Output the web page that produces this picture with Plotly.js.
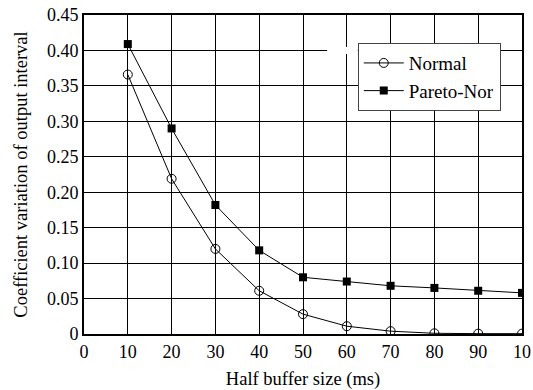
<!DOCTYPE html>
<html><head><meta charset="utf-8">
<script src="https://cdn.plot.ly/plotly-3.0.1.min.js"></script>
<style>html,body{margin:0;padding:0;background:#fff}</style>
</head><body><div id="chart"></div>
<script>
const bufferSize = [10, 20, 30, 40, 50, 60, 70, 80, 90, 100];
const normalCV = [0.366, 0.219, 0.120, 0.061, 0.028, 0.011, 0.004, 0.001, 0.0005, 0.0005];
const paretoCV = [0.409, 0.290, 0.182, 0.118, 0.080, 0.074, 0.068, 0.065, 0.061, 0.058];
const xTickVals = [0, 10, 20, 30, 40, 50, 60, 70, 80, 90, 100];
const xTickText = ['0', '10', '20', '30', '40', '50', '60', '70', '80', '90', '10'];
const yTickVals = [0, 0.05, 0.10, 0.15, 0.20, 0.25, 0.30, 0.35, 0.40, 0.45];
const yTickText = ['0', '0.05', '0.10', '0.15', '0.20', '0.25', '0.30', '0.35', '0.40', '0.45'];

const font = 'Liberation Serif';
const traces = [
  {x: bufferSize, y: normalCV, name: 'Normal', mode: 'lines+markers',
   line: {color: '#000', width: 1},
   marker: {symbol: 'circle-open', size: 9, color: '#000', line: {width: 1}}},
  {x: bufferSize, y: paretoCV, name: 'Pareto-Nor', mode: 'lines+markers',
   line: {color: '#000', width: 1},
   marker: {symbol: 'square', size: 8, color: '#000'}}
];
const layout = {
  width: 533, height: 390,
  margin: {l: 84, r: 11, t: 15, b: 56},
  paper_bgcolor: '#fff', plot_bgcolor: '#fff',
  font: {family: font, color: '#000', size: 16},
  showlegend: true,
  legend: {x: 0.625, y: 0.912, xanchor: 'left', yanchor: 'top',
    bgcolor: '#fff', bordercolor: '#444', borderwidth: 1,
    font: {family: font, size: 19}, tracegroupgap: 0, itemwidth: 40},
  xaxis: {range: [0, 100], tickvals: xTickVals, ticktext: xTickText,
    showgrid: true, gridcolor: '#000', gridwidth: 1,
    showline: true, linecolor: '#000', linewidth: 2, mirror: true,
    ticks: '', zeroline: false, tickfont: {family: font, size: 18},
    title: {text: 'Half buffer size (ms)', font: {family: font, size: 18.5}, standoff: 12}},
  yaxis: {range: [0, 0.45], tickvals: yTickVals, ticktext: yTickText,
    showgrid: true, gridcolor: '#000', gridwidth: 1,
    showline: true, linecolor: '#000', linewidth: 2, mirror: true,
    ticks: '', zeroline: false, tickfont: {family: font, size: 18},
    title: {text: 'Coefficient variation of output interval', font: {family: font, size: 18.5}, standoff: 14}},
  shapes: [
    {type: 'rect', xref: 'x', yref: 'y', x0: 55.5, x1: 62.5, y0: 0.395, y1: 0.405,
     fillcolor: '#fff', line: {width: 0}, layer: 'above'}
  ]
};
Plotly.newPlot('chart', traces, layout, {displayModeBar: false});
</script></body></html>
